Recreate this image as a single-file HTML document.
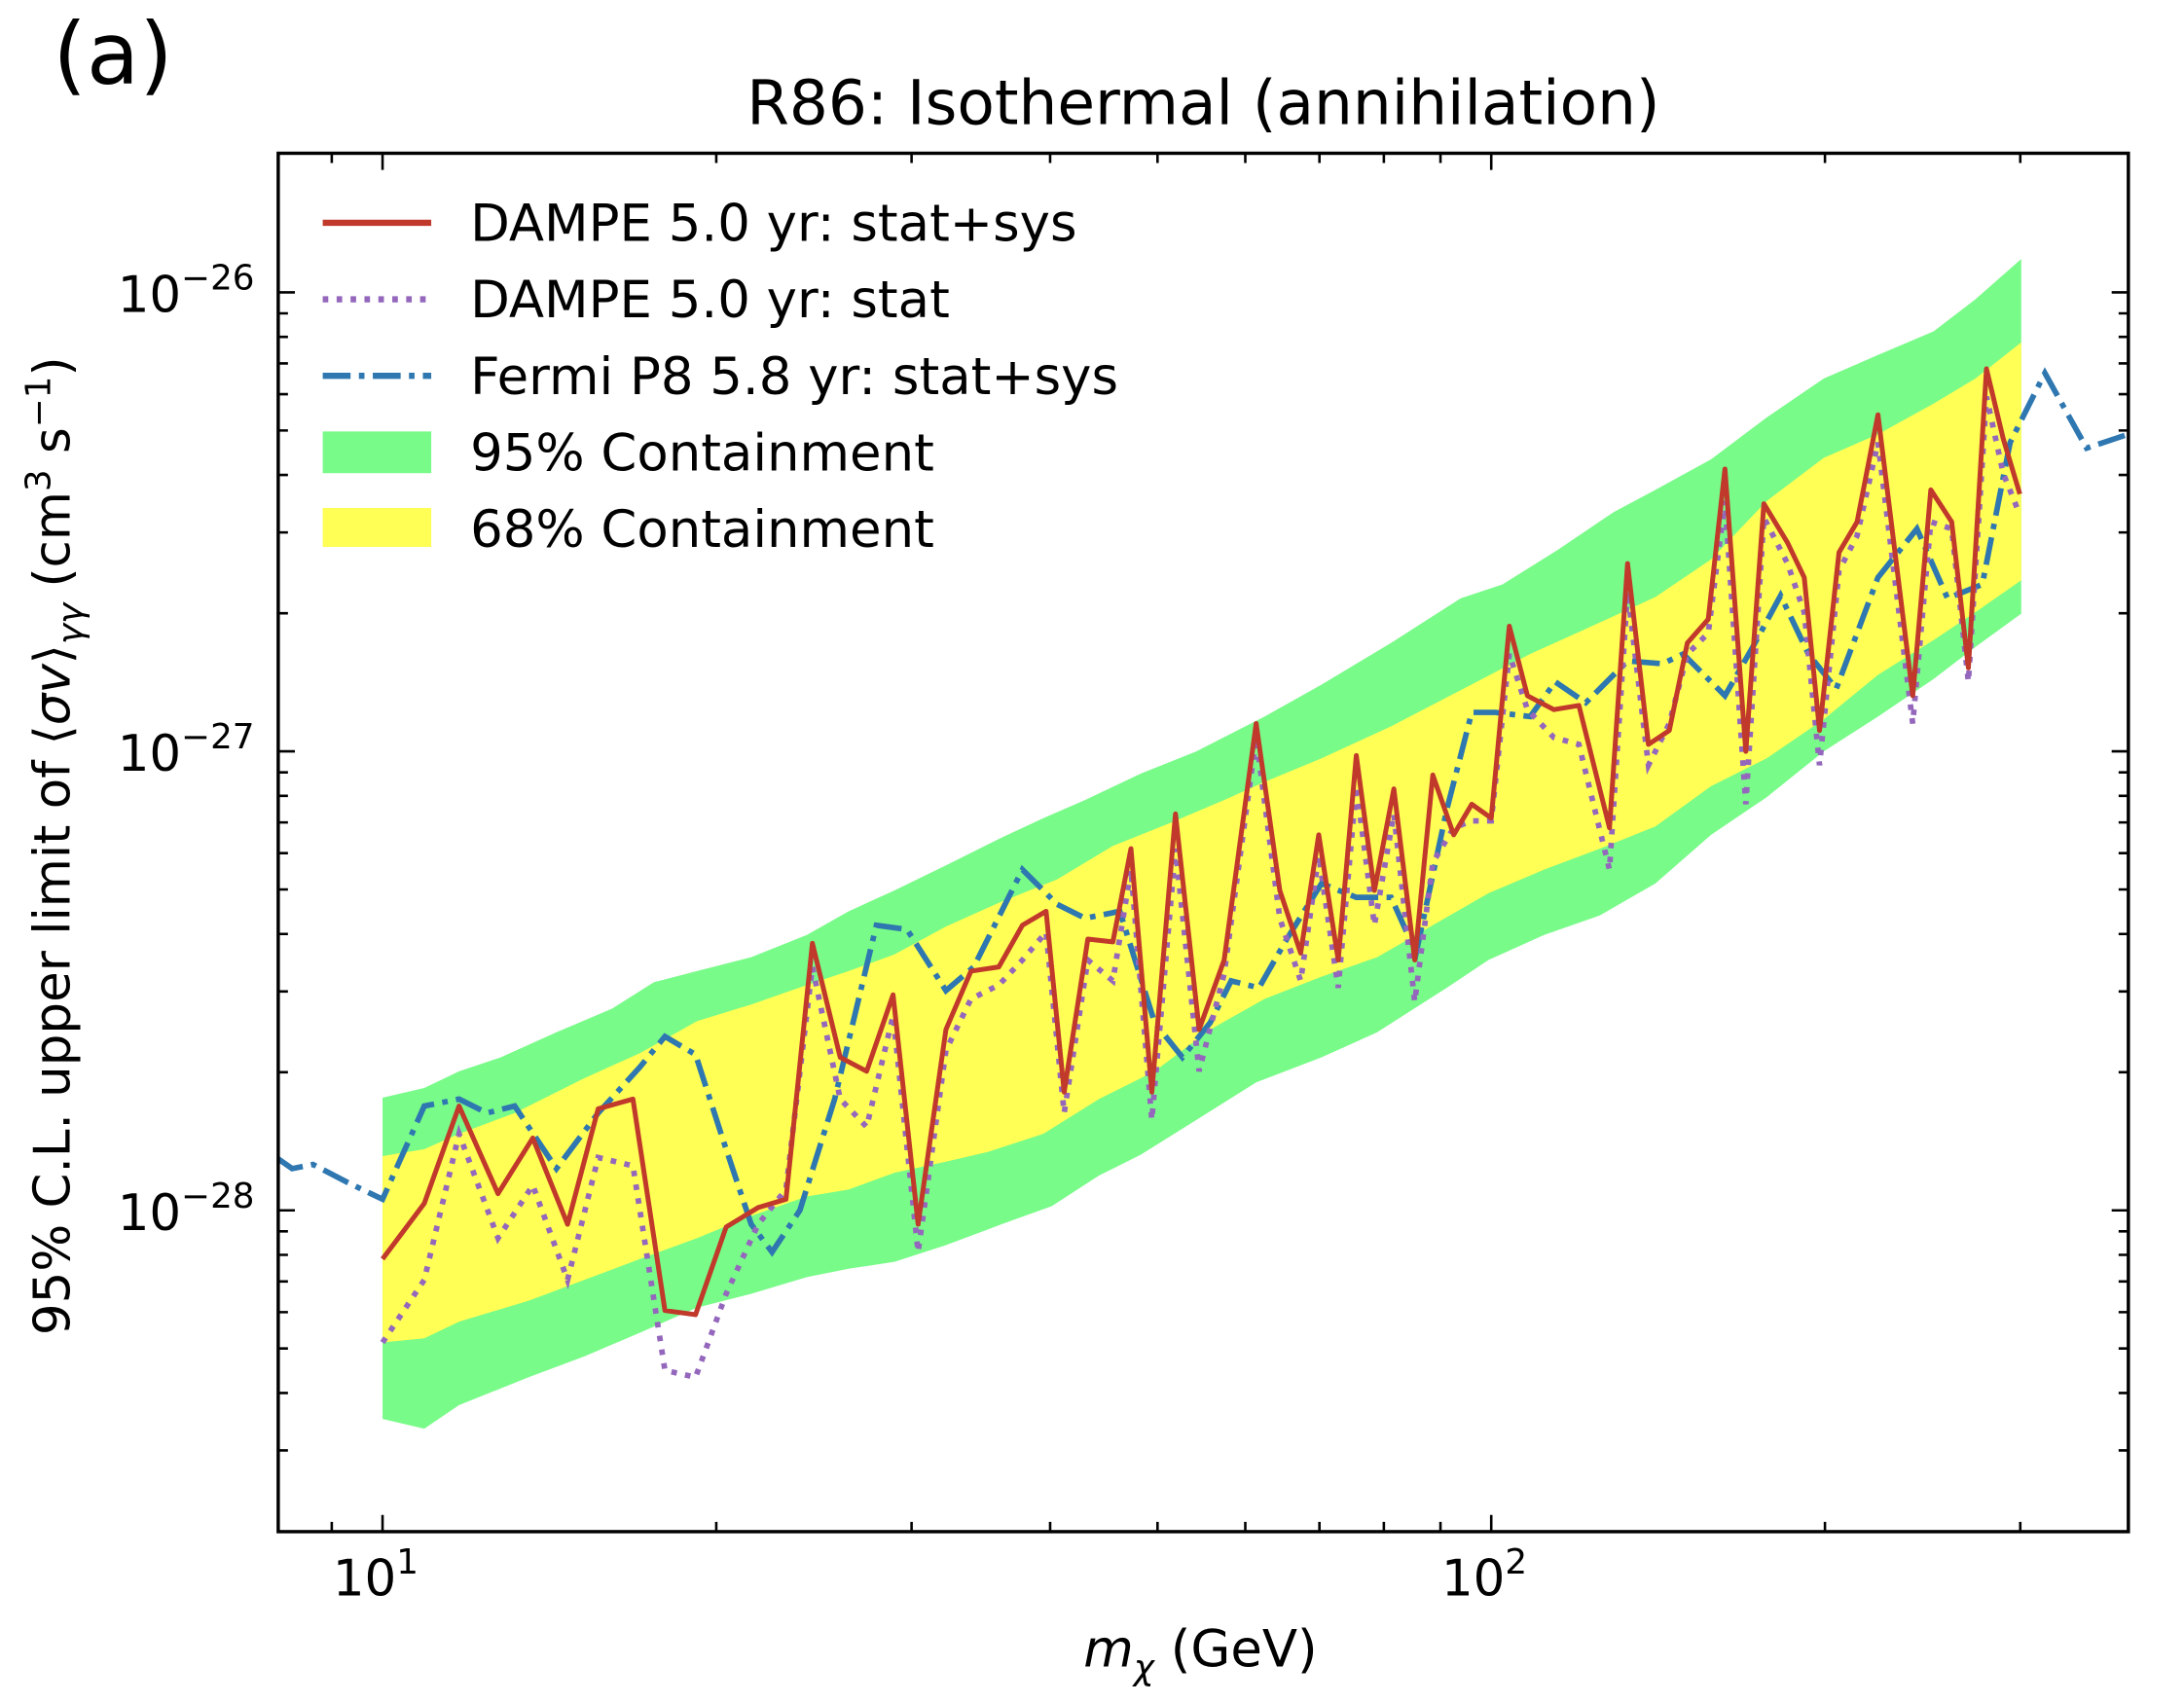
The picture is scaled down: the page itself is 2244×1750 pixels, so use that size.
<!DOCTYPE html>
<html><head><meta charset="utf-8"><style>html,body{margin:0;padding:0;background:#fff}svg{display:block}</style></head>
<body>
<svg xmlns="http://www.w3.org/2000/svg" width="2244" height="1750" viewBox="0 0 1570 1224" font-family="'DejaVu Sans','Liberation Sans',sans-serif">
<rect width="1570" height="1224" fill="#fff"/>
<defs><clipPath id="c"><rect x="200" y="110" width="1330" height="991"/></clipPath></defs>
<g clip-path="url(#c)">
<polygon fill="#79fb89" points="275,789 305,782 330,770 360,760 400,742 440,725 470,706 501,698 540,688 580,672 610,655 643,640 680,622 720,602 750,588 780,575 820,556 860,540 909,515 950,492 1000,462 1050,430 1080,420 1120,395 1160,368 1190,352 1230,330 1270,300 1311,272 1350,255 1390,238 1420,215 1453,186 1453,441 1420,465 1390,488 1350,515 1311,540 1270,573 1230,600 1190,635 1150,658 1110,672 1070,690 1040,710 990,742 950,760 903,778 860,805 820,830 790,845 756,867 720,880 680,895 643,907 610,912 580,918 540,930 501,940 460,958 420,975 380,990 330,1010 305,1027 275,1020"/>
<polygon fill="#ffff55" points="275,831 305,826 330,815 370,800 420,775 460,757 501,734 540,722 580,708 610,698 643,686 680,666 720,648 760,632 800,608 840,592 880,575 909,562 950,545 1000,522 1050,496 1100,470 1140,452 1190,429 1230,402 1270,360 1311,329 1350,312 1390,290 1420,272 1453,246 1453,417 1420,440 1390,460 1350,485 1311,517 1270,545 1230,565 1190,594 1150,610 1110,625 1070,642 1030,665 990,688 950,702 909,718 870,740 830,770 790,790 750,815 710,828 680,835 643,843 610,855 580,860 540,874 501,890 460,905 420,920 380,935 330,950 305,962 275,965"/>
<polyline fill="none" stroke="#2e77b0" stroke-width="4" stroke-dasharray="20,6,4,6" points="200,833 210,840 225,837 250,850 275,862 305,795 330,790 350,800 370,795 400,840 430,800 460,767 478,745 500,758 520,820 540,880 555,900 575,870 600,790 630,665 652,668 680,712 700,695 735,625 760,650 780,660 805,655 830,735 850,760 870,735 885,705 905,710 925,675 950,635 975,645 1000,645 1018,685 1040,582 1058,512 1075,512 1100,515 1118,490 1140,505 1170,475 1195,477 1210,470 1240,500 1260,465 1280,428 1300,470 1320,495 1350,415 1378,380 1400,430 1425,420 1445,318 1470,268 1500,322 1530,312"/>
<polyline fill="none" stroke="#9467bd" stroke-width="4" stroke-dasharray="4,6" points="275,965 305,920 330,815 358,890 383,852 408,920 430,832 455,838 478,985 500,990 522,930 545,880 565,855 584,695 604,790 623,810 642,730 660,900 680,755 698,718 718,708 735,690 752,670 765,800 782,690 800,705 813,625 828,805 845,610 862,770 880,700 903,530 920,660 935,705 948,615 962,710 975,565 988,665 1002,585 1017,720 1030,620 1045,595 1058,590 1072,590 1085,470 1098,510 1117,530 1135,535 1157,625 1170,425 1185,550 1200,520 1213,470 1228,455 1240,360 1255,578 1268,372 1285,405 1297,440 1308,550 1322,410 1335,385 1350,318 1375,520 1388,375 1403,380 1415,490 1428,285 1440,340 1452,370"/>
<polyline fill="none" stroke="#c0392b" stroke-width="3.5" stroke-linejoin="round" points="275,905 305,865 330,795 358,858 383,818 408,880 430,797 455,790 478,942 500,945 522,882 545,868 565,862 584,678 604,760 623,770 642,715 660,880 680,740 698,698 718,695 735,665 752,655 765,785 782,675 800,677 813,610 828,785 845,585 862,740 880,690 903,520 920,640 935,685 948,600 962,690 975,543 988,640 1002,567 1017,690 1030,557 1045,600 1058,578 1072,588 1085,450 1098,500 1117,510 1135,507 1157,595 1170,405 1185,535 1200,525 1213,462 1228,445 1240,337 1255,540 1268,362 1285,390 1297,415 1308,525 1322,397 1335,375 1350,298 1375,500 1388,352 1403,375 1415,480 1428,265 1440,315 1452,355"/>
</g>
<g stroke="#000" stroke-width="1.8" fill="none">
<path d="M275,1101v-12M1072,1101v-12M275,110v12M1072,110v12
M238.5,1101v-7M514.9,1101v-7M655.3,1101v-7M754.9,1101v-7M832.1,1101v-7M895.2,1101v-7M948.5,1101v-7M994.8,1101v-7M1035.5,1101v-7M1311.9,1101v-7M1452.3,1101v-7
M238.5,110v7M514.9,110v7M655.3,110v7M754.9,110v7M832.1,110v7M895.2,110v7M948.5,110v7M994.8,110v7M1035.5,110v7M1311.9,110v7M1452.3,110v7"/>
<path d="M200,210h12M200,540h12M200,870h12M1530,210h-12M1530,540h-12M1530,870h-12
M200,440.7h7M200,382.6h7M200,341.3h7M200,309.3h7M200,283.2h7M200,261.1h7M200,242h7M200,225.1h7
M200,770.7h7M200,712.6h7M200,671.3h7M200,639.3h7M200,613.2h7M200,591.1h7M200,572h7M200,555.1h7
M200,1042.6h7M200,1001.3h7M200,969.3h7M200,943.2h7M200,921.1h7M200,902h7M200,885.1h7
M1530,440.7h-7M1530,382.6h-7M1530,341.3h-7M1530,309.3h-7M1530,283.2h-7M1530,261.1h-7M1530,242h-7M1530,225.1h-7
M1530,770.7h-7M1530,712.6h-7M1530,671.3h-7M1530,639.3h-7M1530,613.2h-7M1530,591.1h-7M1530,572h-7M1530,555.1h-7
M1530,1042.6h-7M1530,1001.3h-7M1530,969.3h-7M1530,943.2h-7M1530,921.1h-7M1530,902h-7M1530,885.1h-7"/>
</g>
<rect x="200" y="110" width="1330" height="991" fill="none" stroke="#000" stroke-width="2.4"/>
<text x="38" y="60" font-size="62">(a)</text>
<text x="865" y="89" font-size="44" text-anchor="middle">R86: Isothermal (annihilation)</text>
<g font-size="36" text-anchor="end">
<text x="183" y="224">10<tspan dy="-16" font-size="25">−26</tspan></text>
<text x="183" y="554">10<tspan dy="-16" font-size="25">−27</tspan></text>
<text x="183" y="884">10<tspan dy="-16" font-size="25">−28</tspan></text>
</g>
<g font-size="36" text-anchor="middle">
<text x="270" y="1147">10<tspan dy="-16" font-size="25">1</tspan></text>
<text x="1067" y="1147">10<tspan dy="-16" font-size="25">2</tspan></text>
</g>
<text x="863" y="1198" font-size="37" text-anchor="middle"><tspan font-style="italic">m</tspan><tspan font-style="italic" font-size="25" dy="9">χ</tspan><tspan dy="-9"> (GeV)</tspan></text>
<text transform="translate(50,608) rotate(-90)" font-size="36" text-anchor="middle">95% C.L. upper limit of ⟨<tspan font-style="italic">σv</tspan>⟩<tspan font-style="italic" font-size="25" dy="9">γγ</tspan><tspan dy="-9"> (cm</tspan><tspan font-size="25" dy="-14">3</tspan><tspan dy="14"> s</tspan><tspan font-size="25" dy="-14">−1</tspan><tspan dy="14">)</tspan></text>
<g font-size="37">
<line x1="232" y1="160" x2="310" y2="160" stroke="#c0392b" stroke-width="4.5"/>
<line x1="232" y1="215" x2="310" y2="215" stroke="#9467bd" stroke-width="4.5" stroke-dasharray="4,6"/>
<line x1="232" y1="270" x2="310" y2="270" stroke="#2e77b0" stroke-width="4.5" stroke-dasharray="20,6,4,6"/>
<rect x="232" y="310" width="78" height="30" fill="#79fb89"/>
<rect x="232" y="365" width="78" height="28" fill="#ffff55"/>
<text x="338" y="173">DAMPE 5.0 yr: stat+sys</text>
<text x="338" y="228">DAMPE 5.0 yr: stat</text>
<text x="338" y="283">Fermi P8 5.8 yr: stat+sys</text>
<text x="338" y="338">95% Containment</text>
<text x="338" y="393">68% Containment</text>
</g>
</svg>
</body></html>
